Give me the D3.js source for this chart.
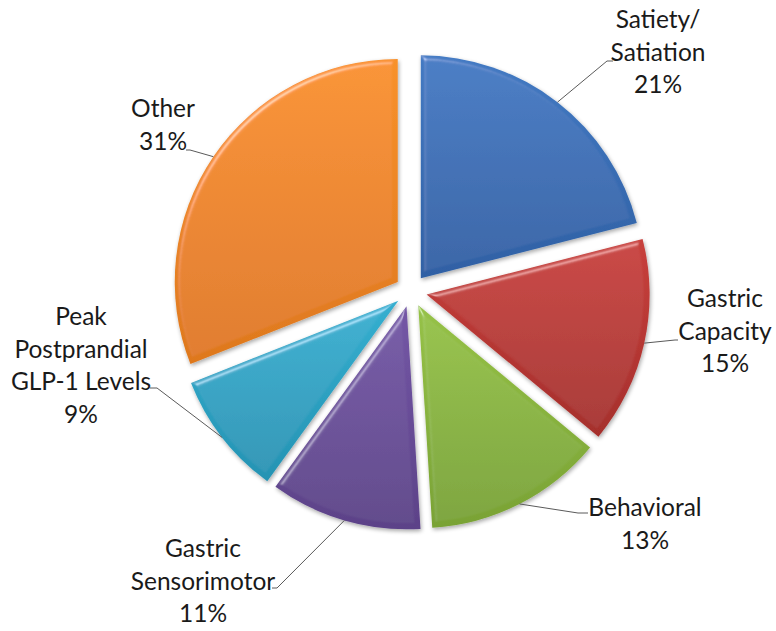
<!DOCTYPE html>
<html>
<head>
<meta charset="utf-8">
<script src="https://cdn.jsdelivr.net/npm/d3@7"></script>
<style>
  html, body { margin: 0; padding: 0; background: #fff; }
  svg { display: block; }
  text { font-family: Lato, "Open Sans", sans-serif; fill: #1a1a1a; }
</style>
</head>
<body>
<svg id="chart" width="776" height="631"></svg>
<script>
// data
const categories = ["Satiety/Satiation", "Gastric Capacity", "Behavioral",
                    "Gastric Sensorimotor", "Peak Postprandial GLP-1 Levels", "Other"];
const values = [21, 15, 13, 11, 9, 31];
// label lines as they are broken in the chart
const labelLines = [
    ["Satiety/", "Satiation", "21%"],
    ["Gastric", "Capacity", "15%"],
    ["Behavioral", "13%"],
    ["Gastric", "Sensorimotor", "11%"],
    ["Peak", "Postprandial", "GLP-1 Levels", "9%"],
    ["Other", "31%"]
];

// layout / style
const width = 776, height = 631;
const cx = 411, cy = 291, radius = 223, explode = 16;
const fills = [
    ["#437ac3", "#2f60a4"],
    ["#c8403c", "#a52f2c"],
    ["#96c247", "#79a234"],
    ["#7457a6", "#5c4288"],
    ["#35afd0", "#2593b3"],
    ["#f8912b", "#de781e"]
];
// label anchor (centre x, first baseline) and leader elbow / end
const labelPos = [
    {x: 658, y: 28, elbow: [607, 61], end: [613, 61]},
    {x: 725, y: 307, elbow: [675, 340], end: [678, 340]},
    {x: 645, y: 516, elbow: [578, 513], end: [588, 513]},
    {x: 203, y: 557, elbow: [277, 588], end: [272, 588]},
    {x: 81, y: 325, elbow: [157, 388], end: [150, 388]},
    {x: 163, y: 117, elbow: [190, 150], end: [186, 150]}
];
const lineStep = 32.5;

const svg = d3.select("#chart");
const defs = svg.append("defs");

fills.forEach((c, i) => {
    const g = defs.append("linearGradient")
        .attr("id", "grad" + i)
        .attr("x1", 0).attr("y1", 0).attr("x2", 0).attr("y2", 1);
    g.append("stop").attr("offset", "0%").attr("stop-color", c[0]);
    g.append("stop").attr("offset", "100%").attr("stop-color", c[1]);
});

// soft bevel + shadow
const f = defs.append("filter").attr("id", "bevel")
    .attr("x", "-10%").attr("y", "-10%").attr("width", "120%").attr("height", "120%");
f.append("feGaussianBlur").attr("in", "SourceAlpha").attr("stdDeviation", 2.5).attr("result", "blur");
const spec = f.append("feSpecularLighting").attr("in", "blur")
    .attr("surfaceScale", 4).attr("specularConstant", 0.7)
    .attr("specularExponent", 25).attr("lighting-color", "#ffffff").attr("result", "spec");
spec.append("feDistantLight").attr("azimuth", 235).attr("elevation", 35);
f.append("feComposite").attr("in", "spec").attr("in2", "SourceAlpha")
    .attr("operator", "in").attr("result", "specOut");
f.append("feComposite").attr("in", "SourceGraphic").attr("in2", "specOut")
    .attr("operator", "arithmetic").attr("k1", 0).attr("k2", 1).attr("k3", 0.5).attr("k4", 0)
    .attr("result", "lit");
f.append("feOffset").attr("in", "SourceAlpha").attr("dx", 1).attr("dy", 2).attr("result", "off");
f.append("feGaussianBlur").attr("in", "off").attr("stdDeviation", 2).attr("result", "shBlur");
f.append("feComponentTransfer").attr("in", "shBlur").attr("result", "shadow")
    .append("feFuncA").attr("type", "linear").attr("slope", 0.35);
const merge = f.append("feMerge");
merge.append("feMergeNode").attr("in", "shadow");
merge.append("feMergeNode").attr("in", "lit");

const pie = d3.pie().sort(null).value(d => d)
    .startAngle(0).endAngle(2 * Math.PI);
const arcs = pie(values);
const arc = d3.arc().innerRadius(0).outerRadius(radius);

const mid = d => (d.startAngle + d.endAngle) / 2;
const offsetOf = d => [Math.sin(mid(d)) * explode, -Math.cos(mid(d)) * explode];

const slices = svg.append("g").attr("transform", `translate(${cx},${cy})`);
slices.selectAll("path")
    .data(arcs)
    .enter()
    .append("path")
    .attr("transform", d => { const o = offsetOf(d); return `translate(${o[0]},${o[1]})`; })
    .attr("d", arc)
    .attr("fill", (d, i) => `url(#grad${i})`)
    .attr("filter", "url(#bevel)");

// leader lines, starting at the middle of each slice's arc
const leaders = svg.append("g");
arcs.forEach((d, i) => {
    const o = offsetOf(d);
    const a = mid(d);
    const sx = cx + o[0] + Math.sin(a) * radius;
    const sy = cy + o[1] - Math.cos(a) * radius;
    const p = labelPos[i];
    leaders.append("path")
        .attr("d", d3.line()([[sx, sy], p.elbow, p.end]))
        .attr("fill", "none")
        .attr("stroke", "#5a5a5a")
        .attr("stroke-width", 1);
});

// labels
const labels = svg.append("g");
labelLines.forEach((lines, i) => {
    const p = labelPos[i];
    const t = labels.append("text")
        .attr("text-anchor", "middle")
        .attr("font-size", 24.5);
    lines.forEach((ln, j) => {
        t.append("tspan").attr("x", p.x).attr("y", p.y + j * lineStep).text(ln);
    });
});
</script>
</body>
</html>
